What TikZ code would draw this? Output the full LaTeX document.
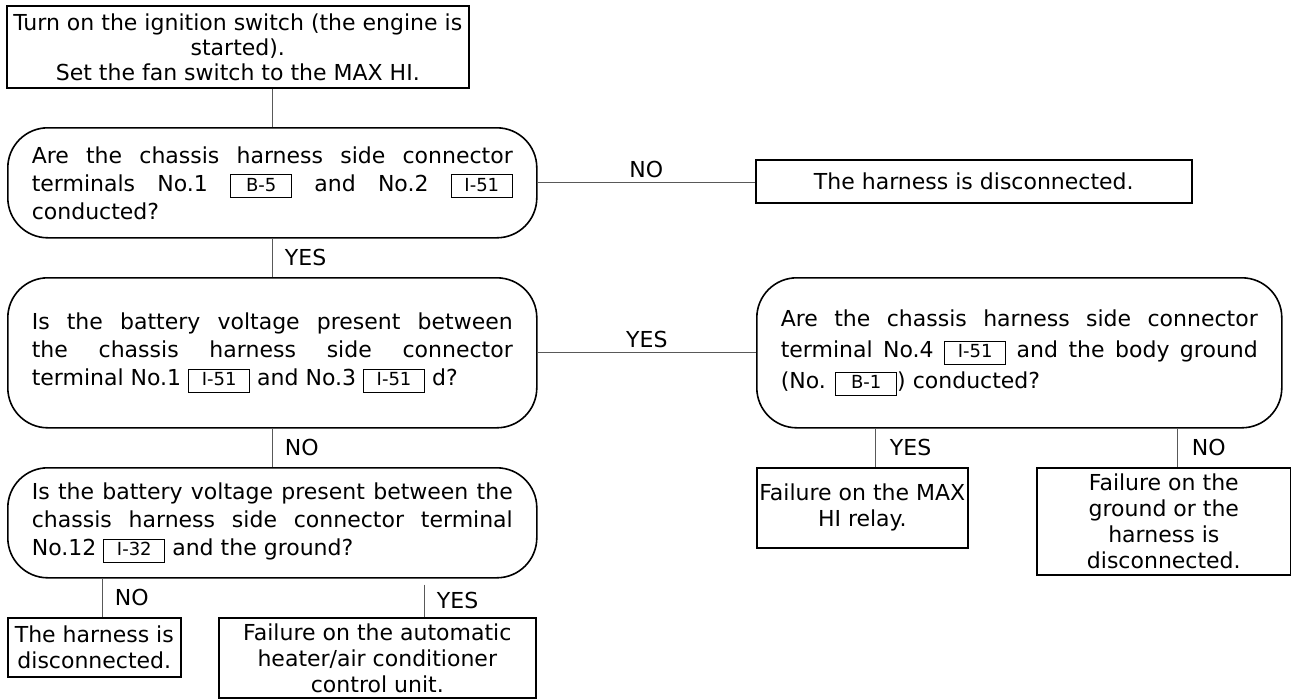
\documentclass[tikz,border=0pt]{standalone}
\usepackage{fontspec}
\setmainfont{DejaVu Sans}
\usetikzlibrary{calc}
\tikzstyle{stepbox}=[rectangle,draw,line width=1.6pt,anchor=north west,align=center,inner sep=0pt,font=\fontsize{22}{26}\selectfont]
\tikzstyle{query}=[rectangle,draw,line width=1.6pt,rounded corners=40pt,anchor=north west,inner xsep=24pt,inner ysep=0pt,align=justify]
\tikzstyle{link}=[draw,line width=1.3pt,black!65]
\tikzstyle{answer}=[inner sep=0pt,text=black]

% framed connector number inside a line of text
\newcommand{\term}[1]{{\setlength{\fboxsep}{0pt}\setlength{\fboxrule}{1pt}%
  \fbox{\makebox[60pt]{\fontsize{18}{18}\selectfont\rule[-6pt]{0pt}{22pt}#1}}}}

\begin{document}
\begin{tikzpicture}[x=1pt,y=-1pt,font=\fontsize{22}{28}\selectfont]
\useasboundingbox (0,0) rectangle (1291,699);

% start
\node[stepbox,minimum width=462pt,minimum height=82pt,font=\fontsize{22}{25}\selectfont] (start) at (6,5)
  {Turn on the ignition switch (the engine is\\started).\\Set the fan switch to the MAX HI.};

% questions
\node[query,text width=481pt,minimum height=110pt] (q1) at (7,127)
  {Are the chassis harness side connector\linebreak
   terminals No.1 \term{B-5} and No.2 \term{I-51}\linebreak
   conducted?};
\node[query,text width=481pt,minimum height=150pt] (q2) at (7,277)
  {Is the battery voltage present between\linebreak
   the chassis harness side connector\linebreak
   terminal No.1 \term{I-51} and No.3 \term{I-51} d?};
\node[query,text width=477pt,minimum height=150pt,font=\fontsize{22}{31}\selectfont] (q3) at (756,277)
  {Are the chassis harness side connector\linebreak
   terminal No.4 \term{I-51} and the body ground\linebreak
   (No. \term{B-1}) conducted?};
\node[query,text width=481pt,minimum height=110pt] (q4) at (7,467)
  {Is the battery voltage present between the\linebreak
   chassis harness side connector terminal\linebreak
   No.12 \term{I-32} and the ground?};

% results
\node[stepbox,minimum width=436pt,minimum height=43pt] (cut1) at (755,159) {The harness is disconnected.};
\node[stepbox,minimum width=211pt,minimum height=80pt] (relay) at (756,467) {Failure on the MAX\\HI relay.};
\node[stepbox,minimum width=254pt,minimum height=107pt] (ground) at (1036,467)
  {Failure on the\\ground or the\\harness is\\disconnected.};
\node[stepbox,minimum width=173pt,minimum height=59pt] (cut2) at (7,617) {The harness is\\disconnected.};
\node[stepbox,minimum width=317pt,minimum height=80pt] (unit) at (218,617)
  {Failure on the automatic\\heater/air conditioner\\control unit.};

% branch points under q3 and q4
\coordinate (yes3) at ([xshift=-144pt]q3.south);
\coordinate (no3) at ([xshift=158pt]q3.south);
\coordinate (no4) at ([xshift=-170pt]q4.south);
\coordinate (yes4) at ([xshift=152pt,yshift=-6pt]q4.south);

% connectors
\path[link] (q1.north) -- (q1.north |- start.south);
\path[link] (q1.south) -- node[answer,right=12pt] {YES} (q2.north);
\path[link] (q2.south) -- node[answer,right=12pt] {NO} (q4.north);
\path[link] (q1.east) -- node[answer,above=4pt] {NO} (q1.east -| cut1.west);
\path[link] (q2.east) -- node[answer,above=4pt] {YES} (q3.west);
\path[link] (yes3) -- node[answer,right=14pt] {YES} (yes3 |- relay.north);
\path[link] (no3) -- node[answer,right=14pt] {NO} (no3 |- ground.north);
\path[link] (no4) -- node[answer,right=12pt] {NO} (no4 |- cut2.north);
\path[link] (yes4) -- node[answer,right=12pt] {YES} (yes4 |- unit.north);

\end{tikzpicture}
\end{document}
